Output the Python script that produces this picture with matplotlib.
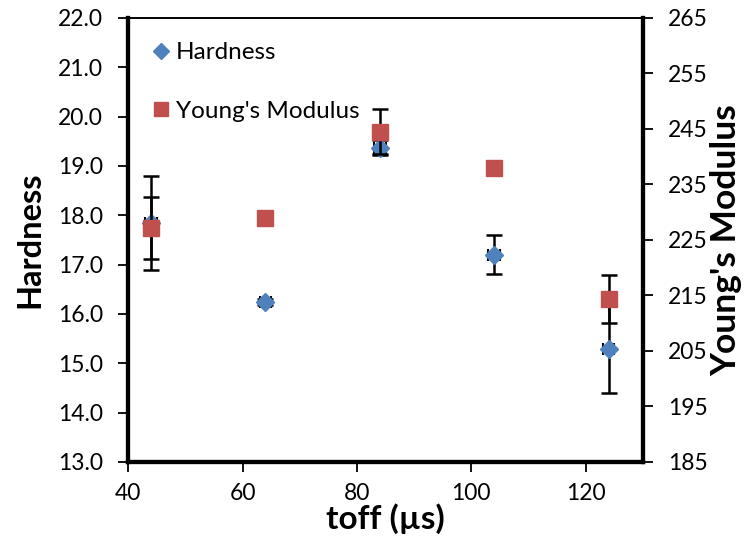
import matplotlib
matplotlib.use("Agg")
import matplotlib.pyplot as plt
from matplotlib.lines import Line2D

# Measured data
toff = [44, 64, 84, 104, 124]
hardness = [17.84, 16.25, 19.37, 17.20, 15.29]
hardness_err = [0.95, 0.06, 0.15, 0.40, 0.90]
hardness_xerr = [1.0, 1.0, 1.0, 1.0, 1.0]
modulus = [227.2, 228.9, 244.5, 237.9, 214.4]
modulus_err = [5.6, 1.0, 4.1, 1.0, 4.3]

left_ticks = [13.0, 14.0, 15.0, 16.0, 17.0, 18.0, 19.0, 20.0, 21.0, 22.0]
right_ticks = [185, 195, 205, 215, 225, 235, 245, 255, 265]
x_ticks = [40, 60, 80, 100, 120]

BLUE = "#4F81BD"
RED = "#C0504D"
FONT = ["Lato", "DejaVu Sans"]

plt.rcParams["font.family"] = FONT

fig = plt.figure(figsize=(7.45, 5.44), dpi=100)
ax = fig.add_axes([0.172, 0.151, 0.691, 0.816])
ax2 = ax.twinx()

# Hardness: diamonds with small x error bars and y error bars
ax.errorbar(toff, hardness, xerr=hardness_xerr, fmt="none", ecolor="black",
            elinewidth=1.5, capsize=4, capthick=1.5, zorder=2)
ax.plot(toff, hardness, linestyle="none", marker="D", markersize=9.5,
        color=BLUE, markeredgecolor=BLUE, zorder=3)
ax.errorbar(toff, hardness, yerr=hardness_err, fmt="none", ecolor="black",
            elinewidth=1.8, capsize=6, capthick=1.8, zorder=2.5)

# Young's modulus: squares on the secondary axis
ax2.errorbar(toff, modulus, yerr=modulus_err, fmt="none", ecolor="black",
             elinewidth=1.8, capsize=6, capthick=1.8, zorder=2)
ax2.plot(toff, modulus, linestyle="none", marker="s", markersize=11,
         color=RED, markeredgecolor=RED, zorder=3)

ax.set_xlim(40, 130)
ax.set_ylim(13, 22)
ax2.set_ylim(185, 265)

ax.set_xticks(x_ticks)
ax.set_xticklabels([str(v) for v in x_ticks])
ax.set_yticks(left_ticks)
ax.set_yticklabels([f"{v:.1f}" for v in left_ticks])
ax2.set_yticks(right_ticks)
ax2.set_yticklabels([str(v) for v in right_ticks])

for a in (ax, ax2):
    a.tick_params(direction="out", length=7, width=1.3, labelsize=16.5,
                  colors="black", pad=11)
    for side in ("left", "right", "bottom"):
        a.spines[side].set_linewidth(3)
    a.spines["top"].set_linewidth(1.2)
ax.tick_params(axis="x", pad=8)

ax.set_xlabel("toff (µs)", fontsize=24, fontweight="bold", labelpad=0)
ax.set_ylabel("Hardness", fontsize=23.5, fontweight="bold", labelpad=10)
ax2.set_ylabel("Young's Modulus", fontsize=25.5, fontweight="bold", labelpad=2)

handles = [
    Line2D([], [], linestyle="none", marker="D", markersize=8, color=BLUE),
    Line2D([], [], linestyle="none", marker="s", markersize=10, color=RED),
]
ax2.legend(handles, ["Hardness", "Young's Modulus"], loc="upper left",
           bbox_to_anchor=(-0.016, 1.022), frameon=False, fontsize=17.5,
           handlelength=0.6, handletextpad=0.3, labelspacing=1.55,
           borderaxespad=1.0)

fig.savefig("out.png", dpi=100)
